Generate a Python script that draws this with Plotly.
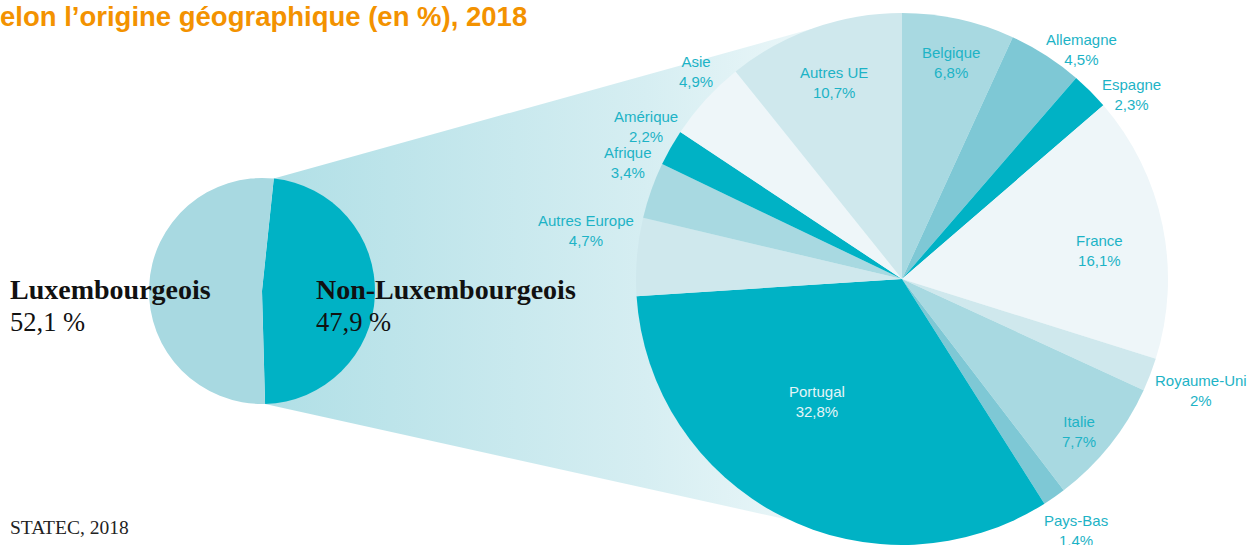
import math
import plotly.graph_objects as go

# ---------------- data ----------------
main_labels = ["Non-Luxembourgeois", "Luxembourgeois"]
main_values = [47.9, 52.1]

origin_labels = ["Belgique", "Allemagne", "Espagne", "France", "Royaume-Uni", "Italie",
                 "Pays-Bas", "Portugal", "Autres Europe", "Afrique", "Amérique", "Asie",
                 "Autres UE"]
origin_values = [6.8, 4.5, 2.3, 16.1, 2.0, 7.7, 1.4, 32.8, 4.7, 3.4, 2.2, 4.9, 10.7]

title_text = "elon l’origine géographique (en %), 2018"
source_text = "STATEC, 2018"

# ---------------- styles / layout ----------------
W, H = 1251, 545
BIG_C, BIG_R = (902, 279), 266
SMALL_C, SMALL_R = (262, 291), 113
SMALL_ROT = 6

TEAL = "#00b2c5"
MID = "#7ec8d5"
LIGHT = "#a8d9e1"
PALE = "#cfe8ed"
WHITE_ISH = "#eef6f9"
main_colors = [TEAL, LIGHT]
origin_colors = [LIGHT, MID, TEAL, WHITE_ISH, PALE, LIGHT, MID, TEAL, PALE, LIGHT, TEAL,
                 WHITE_ISH, PALE]
LABEL_COLOR = "#1db3c6"

# label placement style: (radial factor, angular offset in degrees)
label_place = [(0.835, 0.4), (1.095, 5.2), (1.106, 6.1), (0.75, 3.4), (1.2, -0.6),
               (0.88, 2.1), (1.15, 0.2), (0.56, 7.9), (1.2, 3.9), (1.12, 3.5),
               (1.12, 1.3), (1.1, 2.7), (0.78, 0.3)]
label_font_colors = [LABEL_COLOR] * 7 + ["#e4f5f7"] + [LABEL_COLOR] * 5

# connector attachment angles on the big pie (clockwise from 12 o'clock)
CONN_TOP_ANGLE, CONN_BOT_ANGLE = 340, 205


def pt(center, r, ang_deg):
    a = math.radians(ang_deg)
    return center[0] + r * math.sin(a), center[1] - r * math.cos(a)


def domain(center, r):
    cx, cy = center
    return dict(x=[(cx - r) / W, (cx + r) / W], y=[(H - cy - r) / H, (H - cy + r) / H])


fig = go.Figure()

# connector polygon with horizontal gradient
small_start = SMALL_ROT
small_end = SMALL_ROT + main_values[0] / sum(main_values) * 360
p1 = pt(SMALL_C, SMALL_R, small_start)
p2 = pt(SMALL_C, SMALL_R, small_end)
q1 = pt(BIG_C, BIG_R, CONN_TOP_ANGLE)
q2 = pt(BIG_C, BIG_R, CONN_BOT_ANGLE)
poly = [p1, q1, BIG_C, q2, p2, SMALL_C, p1]
fig.add_trace(go.Scatter(
    x=[p[0] for p in poly], y=[p[1] for p in poly],
    mode="lines", line=dict(width=0), fill="toself",
    fillgradient=dict(type="horizontal",
                      colorscale=[[0, "#b0dfe6"], [0.6, "#d6eef2"], [1, "#f6fbfc"]]),
    hoverinfo="skip", showlegend=False))

# small pie
fig.add_trace(go.Pie(
    labels=main_labels, values=main_values, sort=False, direction="clockwise",
    rotation=SMALL_ROT, marker=dict(colors=main_colors, line=dict(width=0)),
    textinfo="none", domain=domain(SMALL_C, SMALL_R), showlegend=False,
    hoverinfo="label+value"))

# big pie
fig.add_trace(go.Pie(
    labels=origin_labels, values=origin_values, sort=False, direction="clockwise",
    rotation=0, marker=dict(colors=origin_colors, line=dict(width=0)),
    textinfo="none", domain=domain(BIG_C, BIG_R), showlegend=False,
    hoverinfo="label+value"))

annotations = []
total = sum(origin_values)
cum = 0.0
for lab, val, (k, dth), fc in zip(origin_labels, origin_values, label_place, label_font_colors):
    mid = (cum + val / 2) / total * 360
    cum += val
    x, y = pt(BIG_C, BIG_R * k, mid + dth)
    txt = f"{lab}<br>{val:g}%".replace(".", ",")
    annotations.append(dict(x=x, y=y, xref="x", yref="y", text=txt, showarrow=False,
                            xanchor="center", yanchor="middle",
                            font=dict(family="Liberation Sans, Arial", size=15, color=fc)))

serif = "Liberation Serif, Times New Roman, serif"
for lab, val, xpos in zip(["Luxembourgeois", "Non-Luxembourgeois"],
                          [main_values[1], main_values[0]], [8, 314]):
    annotations.append(dict(x=xpos, y=289, xref="x", yref="y", text=f"<b>{lab}</b>",
                            showarrow=False, xanchor="left", yanchor="middle",
                            font=dict(family=serif, size=28, color="#111111")))
    annotations.append(dict(x=xpos, y=322, xref="x", yref="y",
                            text=f"{val:g} %".replace(".", ","),
                            showarrow=False, xanchor="left", yanchor="middle",
                            font=dict(family=serif, size=26.5, color="#111111")))

annotations.append(dict(x=-0.0015, y=1 - 17 / H, xref="paper", yref="paper",
                        text=f"<b>{title_text}</b>",
                        showarrow=False, xanchor="left", yanchor="middle",
                        font=dict(family="Liberation Sans, Arial", size=27.5, color="#f39200")))
annotations.append(dict(x=8, y=527, xref="x", yref="y", text=source_text,
                        showarrow=False, xanchor="left", yanchor="middle",
                        font=dict(family=serif, size=19.5, color="#222222")))

fig.update_layout(
    width=W, height=H, autosize=False,
    margin=dict(l=0, r=0, t=0, b=0, pad=0),
    paper_bgcolor="white", plot_bgcolor="white",
    xaxis=dict(range=[0, W], visible=False, fixedrange=True),
    yaxis=dict(range=[H, 0], visible=False, fixedrange=True),
    annotations=annotations, showlegend=False,
)

fig.write_html("out.html",
               config={"displayModeBar": False},
               post_script="document.body.style.margin='0px';"
                           "document.body.style.overflow='hidden';")
